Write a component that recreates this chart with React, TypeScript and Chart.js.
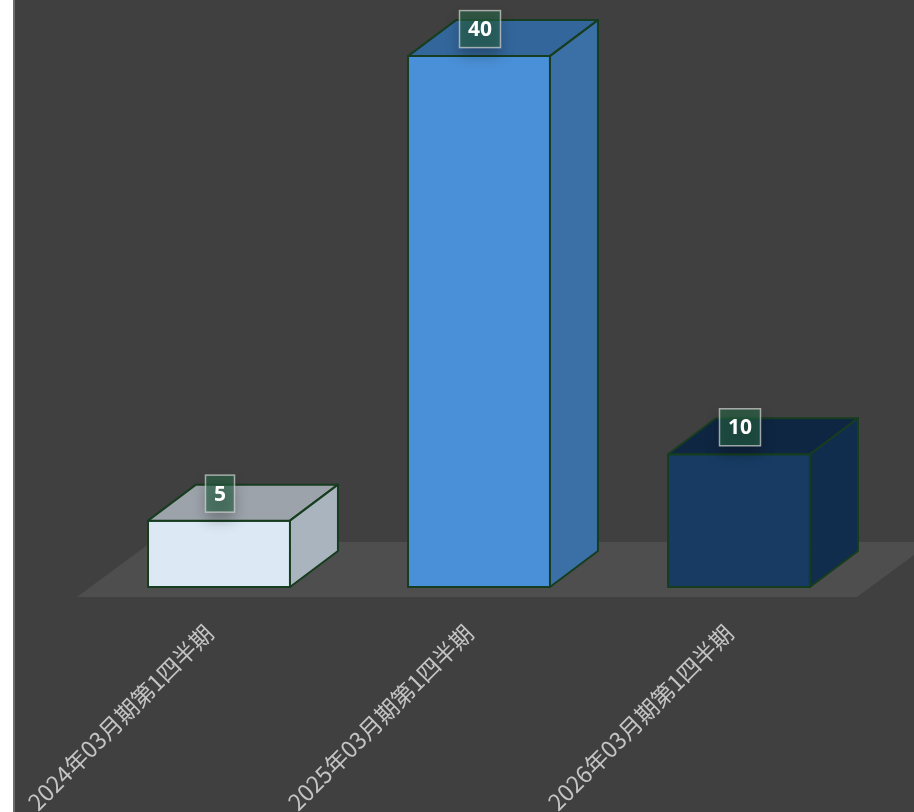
import React, { useEffect, useRef } from "react";
import { Chart, registerables } from "chart.js";

Chart.register(...registerables);

const categories = ["2024年03月期第1四半期", "2025年03月期第1四半期", "2026年03月期第1四半期"];
const values = [5, 40, 10];
const frontColors = ["#dce9f5", "#4a90d8", "#173b63"];
const topColors = ["#9ca3ab", "#33669b", "#0f2642"];
const sideColors = ["#aab4bf", "#3b70a6", "#112d4d"];

const threeD = {
  id: "threeD",
  beforeDatasetsDraw(chart: any) {
    const { ctx, chartArea } = chart;
    const meta = chart.getDatasetMeta(0);
    const w = meta.data[0].width;
    const dx = w * 0.338, dy = -w * 0.2535;
    const base = chart.scales.y.getPixelForValue(0);
    const fx = -dx * 0.25, fy = -dy * 0.28;
    ctx.save();
    ctx.fillStyle = "#4e4e4e";
    ctx.beginPath();
    ctx.moveTo(chartArea.left + fx, base + fy);
    ctx.lineTo(chartArea.right + fx, base + fy);
    ctx.lineTo(chartArea.right + fx + dx * 1.55, base + fy + dy * 1.53);
    ctx.lineTo(chartArea.left + fx + dx * 1.55, base + fy + dy * 1.53);
    ctx.closePath();
    ctx.fill();
    ctx.restore();
  },
  afterDatasetsDraw(chart: any) {
    const { ctx } = chart;
    const meta = chart.getDatasetMeta(0);
    meta.data.forEach((bar: any, i: number) => {
      const l = bar.x - bar.width / 2, r = bar.x + bar.width / 2;
      const t = bar.y, b = bar.base;
      const dx = bar.width * 0.338, dy = -bar.width * 0.2535;
      ctx.save();
      ctx.lineWidth = 2;
      ctx.strokeStyle = "#163d1f";
      ctx.lineJoin = "round";
      const poly = (pts: number[][], fill: string) => {
        ctx.beginPath();
        ctx.moveTo(pts[0][0], pts[0][1]);
        for (let k = 1; k < pts.length; k++) ctx.lineTo(pts[k][0], pts[k][1]);
        ctx.closePath();
        ctx.fillStyle = fill;
        ctx.fill();
        ctx.stroke();
      };
      poly([[l, t], [r, t], [r, b], [l, b]], frontColors[i]);
      poly([[l, t], [l + dx, t + dy], [r + dx, t + dy], [r, t]], topColors[i]);
      poly([[r, t], [r + dx, t + dy], [r + dx, b + dy], [r, b]], sideColors[i]);
      ctx.restore();

      // value label
      ctx.save();
      ctx.font = "bold 21px 'Open Sans', 'Liberation Sans', sans-serif";
      const txt = String(values[i]);
      const tw = ctx.measureText(txt).width;
      const bw = tw + 17, bh = 37;
      const cx = bar.x + 1, cy = t - 27;
      ctx.shadowColor = "rgba(0,0,0,0.45)";
      ctx.shadowBlur = 14;
      ctx.shadowOffsetY = 8;
      ctx.fillStyle = "rgba(40,100,70,0.6)";
      ctx.fillRect(cx - bw / 2, cy - bh / 2, bw, bh);
      ctx.shadowColor = "transparent";
      ctx.strokeStyle = "rgba(215,215,215,0.7)";
      ctx.lineWidth = 1.5;
      ctx.strokeRect(cx - bw / 2, cy - bh / 2, bw, bh);
      ctx.fillStyle = "#ffffff";
      ctx.textAlign = "center";
      ctx.textBaseline = "middle";
      ctx.fillText(txt, cx, cy + 1);
      ctx.restore();
    });

    // category labels
    const xs = chart.scales.x;
    const base = chart.scales.y.getPixelForValue(0);
    ctx.save();
    ctx.font = "23px 'Noto Sans CJK JP', sans-serif";
    ctx.fillStyle = "#c4c4c4";
    ctx.textAlign = "right";
    ctx.textBaseline = "middle";
    categories.forEach((c, i) => {
      const x = xs.getPixelForValue(i);
      ctx.save();
      ctx.translate(x - 10, base + 42);
      ctx.rotate(-Math.PI / 4);
      ctx.fillText(c, 0, 0);
      ctx.restore();
    });
    ctx.restore();
  },
};

export default function App() {
  const ref = useRef<HTMLCanvasElement>(null);
  useEffect(() => {
    if (!ref.current) return;
    const chart = new Chart(ref.current, {
      type: "bar",
      data: {
        labels: categories,
        datasets: [
          {
            data: values,
            backgroundColor: "rgba(0,0,0,0)",
            borderWidth: 0,
            categoryPercentage: 1,
            barPercentage: 0.546,
          },
        ],
      },
      options: {
        responsive: false,
        animation: false,
        devicePixelRatio: 1,
        layout: { padding: { top: 3, left: 74, right: 45, bottom: 225 } },
        plugins: { legend: { display: false }, tooltip: { enabled: false } },
        scales: {
          x: { display: false },
          y: { display: false, min: 0, max: 44 },
        },
      },
      plugins: [threeD],
    });
    return () => chart.destroy();
  }, []);
  return (
    <div
      style={{
        position: "fixed",
        left: 13,
        top: 0,
        width: 901,
        height: 812,
        overflow: "hidden",
        background: "#404040",
        borderLeft: "2px solid #6c6c6c",
        boxSizing: "border-box",
      }}
    >
      <canvas ref={ref} width={899} height={812} style={{ display: "block" }} />
    </div>
  );
}
